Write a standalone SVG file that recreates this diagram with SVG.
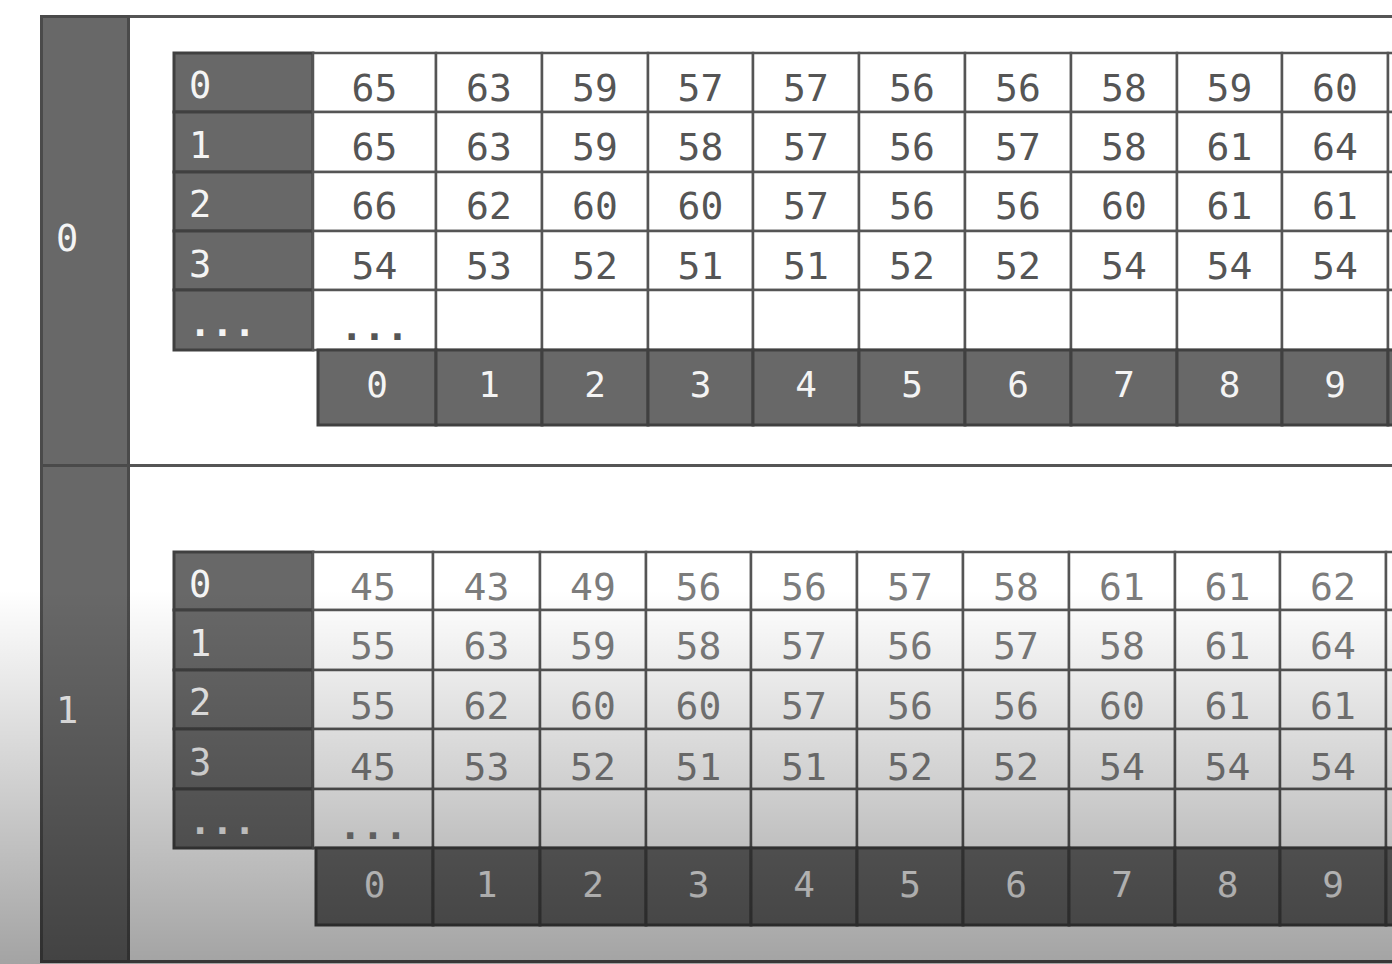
<svg xmlns="http://www.w3.org/2000/svg" width="1392" height="964" viewBox="0 0 1392 964">
<defs>
<style>
.frame{fill:#ffffff;stroke:#555;stroke-width:3}
.side{fill:#686868;stroke:#4a4a4a;stroke-width:3}
.hdr{fill:#686868;stroke:#404040;stroke-width:3}
.cell{fill:#ffffff;stroke:#555;stroke-width:2.5}
.lbl{font-family:"DejaVu Sans Mono","Liberation Mono",monospace;font-size:37px;fill:#f4f4f4}
.val{font-family:"DejaVu Sans Mono","Liberation Mono",monospace;font-size:38px;fill:#555;text-anchor:middle}
.val2{font-family:"DejaVu Sans Mono","Liberation Mono",monospace;font-size:38px;fill:#7c7c7c;text-anchor:middle}
.ch{font-family:"DejaVu Sans Mono","Liberation Mono",monospace;font-size:36px;fill:#f4f4f4;text-anchor:middle}
.dots{font-weight:bold}
</style>
<linearGradient id="shade" gradientUnits="userSpaceOnUse" x1="0" y1="590" x2="0" y2="964">
<stop offset="0" stop-color="#000" stop-opacity="0"/>
<stop offset="1" stop-color="#000" stop-opacity="0.36"/>
</linearGradient>
</defs>
<rect x="0" y="0" width="1392" height="964" fill="#ffffff"/>
<g id="frame">
<rect class="frame" x="41.5" y="16.5" width="1400" height="449"/>
<rect class="frame" x="41.5" y="465.5" width="1400" height="496"/>
<rect class="side" x="41.5" y="16.5" width="87" height="449"/>
<rect class="side" x="41.5" y="465.5" width="87" height="496"/>
<text class="lbl" x="56" y="251">0</text>
<text class="lbl" x="56" y="723">1</text>
</g>
<g id="table-0">
<g id="t0-rows">
<rect class="hdr" x="174" y="53" width="139" height="59"/>
<rect class="hdr" x="174" y="112" width="139" height="60"/>
<rect class="hdr" x="174" y="172" width="139" height="59"/>
<rect class="hdr" x="174" y="231" width="139" height="59"/>
<rect class="hdr" x="174" y="290" width="139" height="60"/>
<text class="lbl" x="189" y="98">0</text>
<text class="lbl" x="189" y="158">1</text>
<text class="lbl" x="189" y="217">2</text>
<text class="lbl" x="189" y="277">3</text>
<text class="lbl dots" x="189" y="336">...</text>
</g>
<g id="t0-cells">
<rect class="cell" x="313" y="53" width="123" height="59"/><rect class="cell" x="436" y="53" width="106" height="59"/><rect class="cell" x="542" y="53" width="106" height="59"/><rect class="cell" x="648" y="53" width="105" height="59"/><rect class="cell" x="753" y="53" width="106" height="59"/><rect class="cell" x="859" y="53" width="106" height="59"/><rect class="cell" x="965" y="53" width="106" height="59"/><rect class="cell" x="1071" y="53" width="106" height="59"/><rect class="cell" x="1177" y="53" width="105" height="59"/><rect class="cell" x="1282" y="53" width="106" height="59"/><rect class="cell" x="1388" y="53" width="106" height="59"/>
<rect class="cell" x="313" y="112" width="123" height="60"/><rect class="cell" x="436" y="112" width="106" height="60"/><rect class="cell" x="542" y="112" width="106" height="60"/><rect class="cell" x="648" y="112" width="105" height="60"/><rect class="cell" x="753" y="112" width="106" height="60"/><rect class="cell" x="859" y="112" width="106" height="60"/><rect class="cell" x="965" y="112" width="106" height="60"/><rect class="cell" x="1071" y="112" width="106" height="60"/><rect class="cell" x="1177" y="112" width="105" height="60"/><rect class="cell" x="1282" y="112" width="106" height="60"/><rect class="cell" x="1388" y="112" width="106" height="60"/>
<rect class="cell" x="313" y="172" width="123" height="59"/><rect class="cell" x="436" y="172" width="106" height="59"/><rect class="cell" x="542" y="172" width="106" height="59"/><rect class="cell" x="648" y="172" width="105" height="59"/><rect class="cell" x="753" y="172" width="106" height="59"/><rect class="cell" x="859" y="172" width="106" height="59"/><rect class="cell" x="965" y="172" width="106" height="59"/><rect class="cell" x="1071" y="172" width="106" height="59"/><rect class="cell" x="1177" y="172" width="105" height="59"/><rect class="cell" x="1282" y="172" width="106" height="59"/><rect class="cell" x="1388" y="172" width="106" height="59"/>
<rect class="cell" x="313" y="231" width="123" height="59"/><rect class="cell" x="436" y="231" width="106" height="59"/><rect class="cell" x="542" y="231" width="106" height="59"/><rect class="cell" x="648" y="231" width="105" height="59"/><rect class="cell" x="753" y="231" width="106" height="59"/><rect class="cell" x="859" y="231" width="106" height="59"/><rect class="cell" x="965" y="231" width="106" height="59"/><rect class="cell" x="1071" y="231" width="106" height="59"/><rect class="cell" x="1177" y="231" width="105" height="59"/><rect class="cell" x="1282" y="231" width="106" height="59"/><rect class="cell" x="1388" y="231" width="106" height="59"/>
<rect class="cell" x="313" y="290" width="123" height="60"/><rect class="cell" x="436" y="290" width="106" height="60"/><rect class="cell" x="542" y="290" width="106" height="60"/><rect class="cell" x="648" y="290" width="105" height="60"/><rect class="cell" x="753" y="290" width="106" height="60"/><rect class="cell" x="859" y="290" width="106" height="60"/><rect class="cell" x="965" y="290" width="106" height="60"/><rect class="cell" x="1071" y="290" width="106" height="60"/><rect class="cell" x="1177" y="290" width="105" height="60"/><rect class="cell" x="1282" y="290" width="106" height="60"/><rect class="cell" x="1388" y="290" width="106" height="60"/>
</g>
<g id="t0-values">
<text class="val" x="374.5" y="101">65</text><text class="val" x="489" y="101">63</text><text class="val" x="595" y="101">59</text><text class="val" x="700.5" y="101">57</text><text class="val" x="806" y="101">57</text><text class="val" x="912" y="101">56</text><text class="val" x="1018" y="101">56</text><text class="val" x="1124" y="101">58</text><text class="val" x="1229.5" y="101">59</text><text class="val" x="1335" y="101">60</text>
<text class="val" x="374.5" y="160">65</text><text class="val" x="489" y="160">63</text><text class="val" x="595" y="160">59</text><text class="val" x="700.5" y="160">58</text><text class="val" x="806" y="160">57</text><text class="val" x="912" y="160">56</text><text class="val" x="1018" y="160">57</text><text class="val" x="1124" y="160">58</text><text class="val" x="1229.5" y="160">61</text><text class="val" x="1335" y="160">64</text>
<text class="val" x="374.5" y="219">66</text><text class="val" x="489" y="219">62</text><text class="val" x="595" y="219">60</text><text class="val" x="700.5" y="219">60</text><text class="val" x="806" y="219">57</text><text class="val" x="912" y="219">56</text><text class="val" x="1018" y="219">56</text><text class="val" x="1124" y="219">60</text><text class="val" x="1229.5" y="219">61</text><text class="val" x="1335" y="219">61</text>
<text class="val" x="374.5" y="279">54</text><text class="val" x="489" y="279">53</text><text class="val" x="595" y="279">52</text><text class="val" x="700.5" y="279">51</text><text class="val" x="806" y="279">51</text><text class="val" x="912" y="279">52</text><text class="val" x="1018" y="279">52</text><text class="val" x="1124" y="279">54</text><text class="val" x="1229.5" y="279">54</text><text class="val" x="1335" y="279">54</text>
<text class="val dots" x="374.5" y="340">...</text>
</g>
<g id="t0-cols">
<rect class="hdr" x="318" y="350" width="118" height="75"/><rect class="hdr" x="436" y="350" width="106" height="75"/><rect class="hdr" x="542" y="350" width="106" height="75"/><rect class="hdr" x="648" y="350" width="105" height="75"/><rect class="hdr" x="753" y="350" width="106" height="75"/><rect class="hdr" x="859" y="350" width="106" height="75"/><rect class="hdr" x="965" y="350" width="106" height="75"/><rect class="hdr" x="1071" y="350" width="106" height="75"/><rect class="hdr" x="1177" y="350" width="105" height="75"/><rect class="hdr" x="1282" y="350" width="106" height="75"/><rect class="hdr" x="1388" y="350" width="106" height="75"/>
<text class="ch" x="377" y="397">0</text><text class="ch" x="489" y="397">1</text><text class="ch" x="595" y="397">2</text><text class="ch" x="700.5" y="397">3</text><text class="ch" x="806" y="397">4</text><text class="ch" x="912" y="397">5</text><text class="ch" x="1018" y="397">6</text><text class="ch" x="1124" y="397">7</text><text class="ch" x="1229.5" y="397">8</text><text class="ch" x="1335" y="397">9</text>
</g>
</g>
<g id="table-1">
<g id="t1-rows">
<rect class="hdr" x="174" y="552" width="139" height="58"/>
<rect class="hdr" x="174" y="610" width="139" height="60"/>
<rect class="hdr" x="174" y="670" width="139" height="59"/>
<rect class="hdr" x="174" y="729" width="139" height="60"/>
<rect class="hdr" x="174" y="789" width="139" height="59"/>
<text class="lbl" x="189" y="597">0</text>
<text class="lbl" x="189" y="656">1</text>
<text class="lbl" x="189" y="715">2</text>
<text class="lbl" x="189" y="775">3</text>
<text class="lbl dots" x="189" y="834">...</text>
</g>
<g id="t1-cells">
<rect class="cell" x="313" y="552" width="120" height="58"/><rect class="cell" x="433" y="552" width="107" height="58"/><rect class="cell" x="540" y="552" width="106" height="58"/><rect class="cell" x="646" y="552" width="105" height="58"/><rect class="cell" x="751" y="552" width="106" height="58"/><rect class="cell" x="857" y="552" width="106" height="58"/><rect class="cell" x="963" y="552" width="106" height="58"/><rect class="cell" x="1069" y="552" width="106" height="58"/><rect class="cell" x="1175" y="552" width="105" height="58"/><rect class="cell" x="1280" y="552" width="106" height="58"/><rect class="cell" x="1386" y="552" width="106" height="58"/>
<rect class="cell" x="313" y="610" width="120" height="60"/><rect class="cell" x="433" y="610" width="107" height="60"/><rect class="cell" x="540" y="610" width="106" height="60"/><rect class="cell" x="646" y="610" width="105" height="60"/><rect class="cell" x="751" y="610" width="106" height="60"/><rect class="cell" x="857" y="610" width="106" height="60"/><rect class="cell" x="963" y="610" width="106" height="60"/><rect class="cell" x="1069" y="610" width="106" height="60"/><rect class="cell" x="1175" y="610" width="105" height="60"/><rect class="cell" x="1280" y="610" width="106" height="60"/><rect class="cell" x="1386" y="610" width="106" height="60"/>
<rect class="cell" x="313" y="670" width="120" height="59"/><rect class="cell" x="433" y="670" width="107" height="59"/><rect class="cell" x="540" y="670" width="106" height="59"/><rect class="cell" x="646" y="670" width="105" height="59"/><rect class="cell" x="751" y="670" width="106" height="59"/><rect class="cell" x="857" y="670" width="106" height="59"/><rect class="cell" x="963" y="670" width="106" height="59"/><rect class="cell" x="1069" y="670" width="106" height="59"/><rect class="cell" x="1175" y="670" width="105" height="59"/><rect class="cell" x="1280" y="670" width="106" height="59"/><rect class="cell" x="1386" y="670" width="106" height="59"/>
<rect class="cell" x="313" y="729" width="120" height="60"/><rect class="cell" x="433" y="729" width="107" height="60"/><rect class="cell" x="540" y="729" width="106" height="60"/><rect class="cell" x="646" y="729" width="105" height="60"/><rect class="cell" x="751" y="729" width="106" height="60"/><rect class="cell" x="857" y="729" width="106" height="60"/><rect class="cell" x="963" y="729" width="106" height="60"/><rect class="cell" x="1069" y="729" width="106" height="60"/><rect class="cell" x="1175" y="729" width="105" height="60"/><rect class="cell" x="1280" y="729" width="106" height="60"/><rect class="cell" x="1386" y="729" width="106" height="60"/>
<rect class="cell" x="313" y="789" width="120" height="59"/><rect class="cell" x="433" y="789" width="107" height="59"/><rect class="cell" x="540" y="789" width="106" height="59"/><rect class="cell" x="646" y="789" width="105" height="59"/><rect class="cell" x="751" y="789" width="106" height="59"/><rect class="cell" x="857" y="789" width="106" height="59"/><rect class="cell" x="963" y="789" width="106" height="59"/><rect class="cell" x="1069" y="789" width="106" height="59"/><rect class="cell" x="1175" y="789" width="105" height="59"/><rect class="cell" x="1280" y="789" width="106" height="59"/><rect class="cell" x="1386" y="789" width="106" height="59"/>
</g>
<g id="t1-values">
<text class="val2" x="373" y="600">45</text><text class="val2" x="486.5" y="600">43</text><text class="val2" x="593" y="600">49</text><text class="val2" x="698.5" y="600">56</text><text class="val2" x="804" y="600">56</text><text class="val2" x="910" y="600">57</text><text class="val2" x="1016" y="600">58</text><text class="val2" x="1122" y="600">61</text><text class="val2" x="1227.5" y="600">61</text><text class="val2" x="1333" y="600">62</text>
<text class="val2" x="373" y="659">55</text><text class="val2" x="486.5" y="659">63</text><text class="val2" x="593" y="659">59</text><text class="val2" x="698.5" y="659">58</text><text class="val2" x="804" y="659">57</text><text class="val2" x="910" y="659">56</text><text class="val2" x="1016" y="659">57</text><text class="val2" x="1122" y="659">58</text><text class="val2" x="1227.5" y="659">61</text><text class="val2" x="1333" y="659">64</text>
<text class="val2" x="373" y="719">55</text><text class="val2" x="486.5" y="719">62</text><text class="val2" x="593" y="719">60</text><text class="val2" x="698.5" y="719">60</text><text class="val2" x="804" y="719">57</text><text class="val2" x="910" y="719">56</text><text class="val2" x="1016" y="719">56</text><text class="val2" x="1122" y="719">60</text><text class="val2" x="1227.5" y="719">61</text><text class="val2" x="1333" y="719">61</text>
<text class="val2" x="373" y="780">45</text><text class="val2" x="486.5" y="780">53</text><text class="val2" x="593" y="780">52</text><text class="val2" x="698.5" y="780">51</text><text class="val2" x="804" y="780">51</text><text class="val2" x="910" y="780">52</text><text class="val2" x="1016" y="780">52</text><text class="val2" x="1122" y="780">54</text><text class="val2" x="1227.5" y="780">54</text><text class="val2" x="1333" y="780">54</text>
<text class="val2 dots" x="373" y="839">...</text>
</g>
<g id="t1-cols">
<rect class="hdr" x="316" y="848" width="117" height="77"/><rect class="hdr" x="433" y="848" width="107" height="77"/><rect class="hdr" x="540" y="848" width="106" height="77"/><rect class="hdr" x="646" y="848" width="105" height="77"/><rect class="hdr" x="751" y="848" width="106" height="77"/><rect class="hdr" x="857" y="848" width="106" height="77"/><rect class="hdr" x="963" y="848" width="106" height="77"/><rect class="hdr" x="1069" y="848" width="106" height="77"/><rect class="hdr" x="1175" y="848" width="105" height="77"/><rect class="hdr" x="1280" y="848" width="106" height="77"/><rect class="hdr" x="1386" y="848" width="106" height="77"/>
<text class="ch" x="374.5" y="897">0</text><text class="ch" x="486.5" y="897">1</text><text class="ch" x="593" y="897">2</text><text class="ch" x="698.5" y="897">3</text><text class="ch" x="804" y="897">4</text><text class="ch" x="910" y="897">5</text><text class="ch" x="1016" y="897">6</text><text class="ch" x="1122" y="897">7</text><text class="ch" x="1227.5" y="897">8</text><text class="ch" x="1333" y="897">9</text>
</g>
</g>
<rect id="shade-overlay" x="0" y="590" width="1392" height="374" fill="url(#shade)"/>
</svg>
